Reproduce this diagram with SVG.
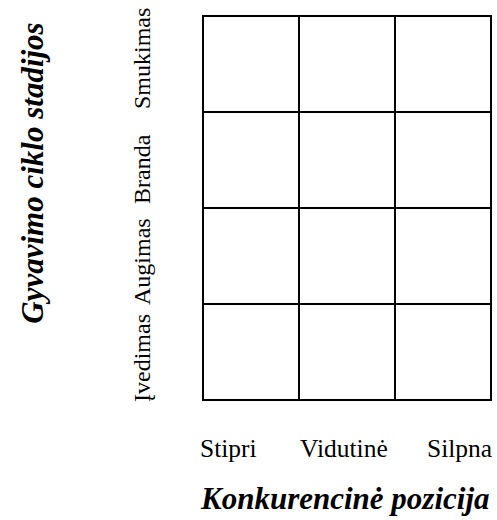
<svg xmlns="http://www.w3.org/2000/svg" width="497" height="520" viewBox="0 0 497 520">
<style>
.cell{fill:none;stroke:#000;stroke-width:2}
.lbl{font-family:"Liberation Serif","Times New Roman",serif;font-size:25.5px;fill:#000}
.rl{font-size:24px}
.ttl{font-family:"Liberation Serif","Times New Roman",serif;font-size:31px;font-weight:bold;font-style:italic;fill:#000}
</style>
<rect width="497" height="520" fill="#fff"/>
<g id="grid">
<g id="r1c1"><rect class="cell" x="203" y="16" width="96" height="96"/></g>
<g id="r1c2"><rect class="cell" x="299" y="16" width="96" height="96"/></g>
<g id="r1c3"><rect class="cell" x="395" y="16" width="96" height="96"/></g>
<g id="r2c1"><rect class="cell" x="203" y="112" width="96" height="96"/></g>
<g id="r2c2"><rect class="cell" x="299" y="112" width="96" height="96"/></g>
<g id="r2c3"><rect class="cell" x="395" y="112" width="96" height="96"/></g>
<g id="r3c1"><rect class="cell" x="203" y="208" width="96" height="96"/></g>
<g id="r3c2"><rect class="cell" x="299" y="208" width="96" height="96"/></g>
<g id="r3c3"><rect class="cell" x="395" y="208" width="96" height="96"/></g>
<g id="r4c1"><rect class="cell" x="203" y="304" width="96" height="96"/></g>
<g id="r4c2"><rect class="cell" x="299" y="304" width="96" height="96"/></g>
<g id="r4c3"><rect class="cell" x="395" y="304" width="96" height="96"/></g>
</g>
<g id="row-labels">
<text class="lbl rl" transform="translate(150,402) rotate(-90)">Įvedimas</text>
<text class="lbl rl" transform="translate(150,305) rotate(-90)">Augimas</text>
<text class="lbl rl" transform="translate(150,204) rotate(-90)">Branda</text>
<text class="lbl rl" transform="translate(150,109) rotate(-90)">Smukimas</text>
</g>
<g id="col-labels">
<text class="lbl" x="200" y="457">Stipri</text>
<text class="lbl" x="300" y="457">Vidutinė</text>
<text class="lbl" x="427" y="457">Silpna</text>
</g>
<g id="axis-titles">
<text class="ttl" text-anchor="middle" transform="translate(43,173) rotate(-90)">Gyvavimo ciklo stadijos</text>
<text class="ttl" x="201" y="509">Konkurencinė pozicija</text>
</g>
</svg>
